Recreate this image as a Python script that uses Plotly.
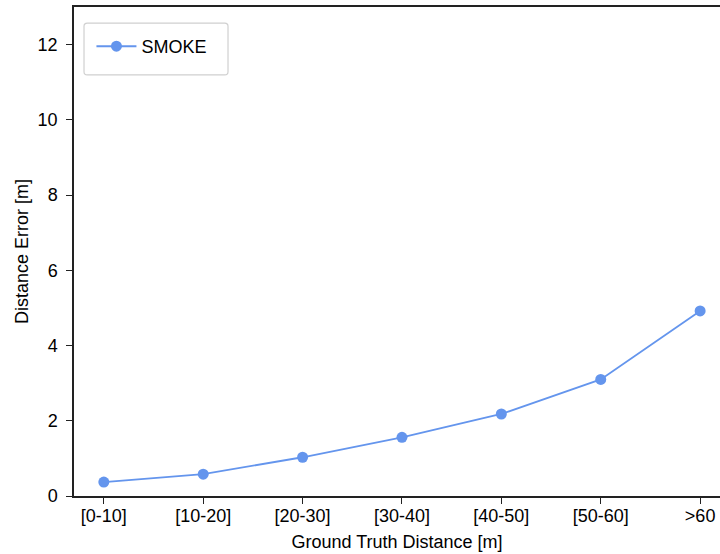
import plotly.graph_objects as go

categories = ["[0-10]", "[10-20]", "[20-30]", "[30-40]", "[40-50]", "[50-60]", ">60"]
smoke_error = [0.37, 0.58, 1.03, 1.56, 2.18, 3.10, 4.92]
y_ticks = [0, 2, 4, 6, 8, 10, 12]

FONT = "Liberation Sans, Arial, sans-serif"
COLOR = "#6495ED"

fig = go.Figure()
fig.add_trace(go.Scatter(
    x=list(range(len(categories))), y=smoke_error, mode="lines+markers",
    name="SMOKE", line=dict(color=COLOR, width=1.8),
    marker=dict(color=COLOR, size=11),
))

# rounded legend frame (paper coords)
x0, x1, y0, y1 = 0.0155, 0.2384, 0.861, 0.967
rx, ry = 0.005, 0.0065
path = (f"M {x0+rx},{y0} L {x1-rx},{y0} Q {x1},{y0} {x1},{y0+ry} "
        f"L {x1},{y1-ry} Q {x1},{y1} {x1-rx},{y1} L {x0+rx},{y1} "
        f"Q {x0},{y1} {x0},{y1-ry} L {x0},{y0+ry} Q {x0},{y0} {x0+rx},{y0} Z")
fig.add_shape(type="path", path=path, xref="paper", yref="paper",
              line=dict(color="#d0d0d0", width=1.2), fillcolor="white", layer="below")

fig.update_layout(
    width=720, height=554,
    margin=dict(l=74, r=0, t=7, b=58),
    paper_bgcolor="white", plot_bgcolor="white",
    font=dict(family=FONT, size=18, color="black"),
    showlegend=True,
    legend=dict(x=0.027, y=0.957, xanchor="left", yanchor="top",
                borderwidth=0, bgcolor="rgba(0,0,0,0)", itemwidth=40,
                font=dict(size=18)),
    xaxis=dict(
        range=[-0.3, 6.2], tickmode="array",
        tickvals=list(range(len(categories))), ticktext=categories,
        showgrid=False, zeroline=False, showline=True, mirror=True,
        linecolor="#222222", linewidth=1.5,
        ticks="outside", ticklen=6, tickwidth=1.4, tickcolor="#222222",
        ticklabelstandoff=-3,
        title=dict(text="Ground Truth Distance [m]", standoff=10, font=dict(size=18)),
    ),
    yaxis=dict(
        range=[0, 13], tickmode="array", tickvals=y_ticks,
        showgrid=False, zeroline=False, showline=True,
        linecolor="#222222", linewidth=1.5,
        ticks="outside", ticklen=6, tickwidth=1.4, tickcolor="#222222",
        ticklabelstandoff=5,
        title=dict(text="Distance Error [m]", standoff=4, font=dict(size=18)),
    ),
)

fig.write_html("out.html")
